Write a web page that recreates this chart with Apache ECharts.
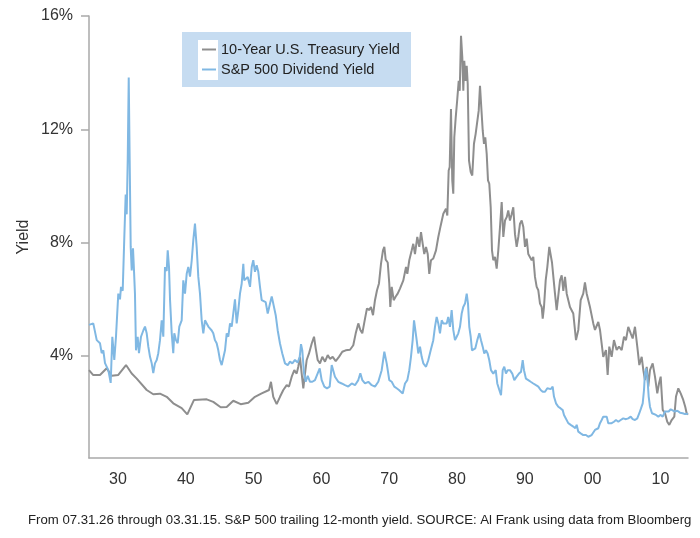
<!DOCTYPE html>
<html>
<head>
<meta charset="utf-8">
<script src="https://cdn.jsdelivr.net/npm/echarts@6/dist/echarts.min.js"></script>
<style>
html,body{margin:0;padding:0;background:#fff;}
#chart{width:700px;height:538px;}
</style>
</head>
<body>
<div id="chart"></div>
<script>
// 10-Year U.S. Treasury Yield (years, values in %)
const tyYears = [1925.72,1926.31,1927.34,1928.33,1929.07,1930.04,1931.18,1932.02,1932.76,1934.23,1935.2,1936.19,1937.18,1938.15,1939.39,1940.22,1941.21,1943.08,1944.05,1945.14,1946.03,1947.0,1948.09,1949.22,1950.2,1951.19,1952.27,1952.56,1952.9,1953.4,1953.89,1954.38,1954.88,1955.22,1955.62,1956.0,1956.35,1956.59,1956.84,1957.09,1957.33,1957.58,1957.83,1958.17,1958.57,1958.91,1959.16,1959.45,1959.79,1960.13,1960.53,1960.93,1961.27,1961.66,1962.11,1962.59,1963.08,1963.58,1964.22,1964.7,1965.06,1965.44,1965.74,1966.03,1966.43,1966.72,1967.02,1967.31,1967.61,1967.9,1968.2,1968.49,1968.79,1969.08,1969.28,1969.48,1969.78,1970.01,1970.16,1970.37,1970.66,1970.96,1971.25,1971.59,1972.08,1972.48,1972.67,1972.96,1973.32,1973.55,1973.8,1974.14,1974.44,1974.69,1974.94,1975.17,1975.43,1975.68,1975.91,1976.16,1976.5,1976.9,1977.24,1977.59,1977.98,1978.37,1978.57,1978.77,1978.92,1979.11,1979.3,1979.45,1979.6,1979.81,1980.04,1980.25,1980.4,1980.59,1980.78,1980.93,1981.07,1981.28,1981.43,1981.58,1981.77,1982.02,1982.25,1982.5,1982.75,1982.99,1983.2,1983.39,1983.58,1983.79,1983.98,1984.17,1984.38,1984.57,1984.76,1984.97,1985.16,1985.35,1985.6,1985.85,1986.09,1986.34,1986.59,1986.83,1987.08,1987.33,1987.56,1987.81,1988.06,1988.3,1988.55,1988.8,1989.04,1989.29,1989.54,1989.78,1990.03,1990.28,1990.51,1990.76,1991.01,1991.25,1991.5,1991.75,1991.99,1992.24,1992.49,1992.64,1992.83,1993.08,1993.32,1993.61,1993.76,1994.01,1994.45,1994.7,1995.19,1995.44,1995.68,1995.93,1996.18,1996.66,1997.15,1997.55,1997.89,1998.24,1998.62,1998.87,1999.13,1999.61,2000.1,2000.35,2000.84,2001.09,2001.57,2001.97,2002.22,2002.46,2002.81,2003.15,2003.55,2003.89,2004.29,2004.63,2004.92,2005.26,2005.62,2005.91,2006.25,2006.59,2006.89,2007.24,2007.48,2007.72,2007.98,2008.21,2008.46,2008.86,2009.2,2009.54,2009.79,2010.04,2010.34,2010.68,2011.01,2011.31,2011.66,2012.05,2012.3,2012.64,2012.99,2013.37,2013.67,2013.87,2014.07];
const tyValues = [3.5,3.33,3.33,3.57,3.3,3.33,3.68,3.38,3.2,2.8,2.65,2.67,2.56,2.33,2.16,1.94,2.45,2.47,2.38,2.19,2.2,2.42,2.3,2.35,2.56,2.68,2.8,3.09,2.56,2.3,2.56,2.8,2.97,2.92,3.27,3.5,3.38,3.62,3.97,3.38,2.86,3.38,3.86,4.09,4.44,4.68,4.27,3.86,3.74,3.97,3.8,4.03,3.9,3.97,3.82,3.97,4.15,4.2,4.22,4.38,4.8,5.15,4.92,4.8,5.32,5.68,5.62,5.73,5.44,5.97,6.32,6.56,7.26,7.73,7.85,7.4,7.3,6.56,5.73,6.44,5.97,6.1,6.2,6.38,6.67,7.14,6.9,7.38,7.73,7.96,7.6,8.2,7.85,8.37,7.96,7.6,7.85,7.6,6.9,7.38,7.44,7.73,8.2,8.6,9.02,9.2,8.96,10.55,10.67,12.72,10.2,9.73,11.72,12.42,13.07,13.71,13.36,15.3,14.54,13.36,14.42,13.71,14.24,13.6,10.9,10.49,10.37,11.49,11.84,11.78,12.66,13.54,12.78,11.96,11.49,11.72,11.13,10.2,10.08,9.25,7.73,7.38,7.5,7.08,7.73,8.55,9.43,8.2,8.78,8.9,9.14,8.78,9.0,9.25,8.3,7.85,8.2,8.67,8.78,8.55,7.85,8.14,7.6,7.6,7.38,7.5,6.79,6.44,6.32,5.85,5.73,5.32,5.73,6.67,7.14,7.85,7.9,7.3,6.2,5.62,6.67,6.85,6.3,6.79,6.2,5.73,5.5,4.56,4.92,5.97,6.2,6.6,6.2,5.73,5.15,4.92,5.2,4.92,3.97,4.21,3.33,4.33,3.97,4.56,4.21,4.33,4.21,4.68,4.56,5.03,4.8,4.62,5.03,4.33,3.68,3.97,3.5,3.15,3.62,2.92,3.5,3.74,3.27,2.68,3.03,3.27,2.1,1.98,1.68,1.57,1.74,1.86,2.57,2.86,2.68,2.45,2.2,1.98,1.93];

// S&P 500 Dividend Yield
const dyYears = [1925.72,1925.87,1926.35,1926.86,1927.34,1927.59,1927.83,1928.08,1928.57,1928.92,1929.16,1929.45,1929.7,1930.04,1930.29,1930.44,1930.69,1930.93,1931.13,1931.28,1931.43,1931.58,1931.72,1931.87,1932.02,1932.21,1932.36,1932.5,1932.65,1932.9,1933.09,1933.39,1933.73,1933.98,1934.23,1934.47,1934.72,1934.97,1935.2,1935.45,1935.71,1935.94,1936.19,1936.44,1936.68,1936.93,1937.18,1937.33,1937.52,1937.67,1937.92,1938.15,1938.3,1938.55,1938.8,1939.04,1939.39,1939.63,1939.88,1940.13,1940.37,1940.62,1940.87,1941.1,1941.35,1941.6,1941.84,1942.09,1942.34,1942.58,1942.83,1943.08,1943.32,1943.57,1943.82,1944.05,1944.3,1944.55,1944.79,1945.04,1945.29,1945.53,1945.78,1946.03,1946.27,1946.52,1946.77,1947.0,1947.25,1947.5,1947.74,1947.99,1948.24,1948.48,1948.62,1949.13,1949.47,1949.72,1949.95,1950.2,1950.45,1950.69,1950.94,1951.19,1951.43,1951.78,1952.08,1952.42,1952.67,1952.9,1953.26,1953.55,1953.89,1954.23,1954.63,1955.03,1955.37,1955.71,1956.1,1956.5,1956.8,1956.99,1957.18,1957.43,1957.68,1957.98,1958.32,1958.66,1959.05,1959.45,1959.75,1960.04,1960.43,1960.82,1961.22,1961.52,1961.75,1962.0,1962.49,1962.99,1963.48,1963.96,1964.47,1964.95,1965.44,1965.74,1966.03,1966.43,1966.92,1967.42,1967.9,1968.39,1968.89,1969.28,1969.63,1970.01,1970.37,1970.75,1971.1,1971.44,1971.99,1972.33,1972.67,1972.96,1973.21,1973.46,1973.66,1973.85,1974.05,1974.29,1974.54,1974.79,1975.03,1975.43,1975.76,1976.12,1976.5,1976.75,1977.0,1977.24,1977.49,1977.74,1977.98,1978.23,1978.48,1978.71,1978.96,1979.21,1979.45,1979.7,1979.95,1980.19,1980.44,1980.69,1980.92,1981.18,1981.43,1981.62,1981.81,1982.02,1982.21,1982.4,1982.7,1982.99,1983.29,1983.54,1983.79,1984.02,1984.27,1984.52,1984.76,1985.01,1985.35,1985.71,1985.94,1986.24,1986.49,1986.74,1986.97,1987.22,1987.47,1987.81,1988.15,1988.45,1988.8,1989.14,1989.44,1989.69,1989.88,1990.17,1990.51,1990.87,1991.25,1991.65,1991.99,1992.34,1992.64,1992.98,1993.32,1993.82,1994.11,1994.3,1994.6,1994.94,1995.29,1995.59,1995.78,1996.07,1996.41,1996.77,1997.15,1997.45,1997.65,1997.89,1998.24,1998.62,1999.02,1999.36,1999.61,1999.86,2000.1,2000.35,2000.6,2000.84,2001.09,2001.34,2001.57,2001.83,2002.08,2002.31,2002.56,2002.81,2003.15,2003.45,2003.79,2004.14,2004.52,2004.92,2005.26,2005.62,2005.91,2006.25,2006.59,2006.89,2007.14,2007.39,2007.58,2007.72,2007.87,2008.07,2008.27,2008.46,2008.76,2009.05,2009.35,2009.69,2010.04,2010.34,2010.68,2010.93,2011.22,2011.52,2011.81,2012.15,2012.49,2012.89,2013.29,2013.63,2013.87,2014.07];
const dyValues = [5.1,5.15,5.15,4.56,4.45,4.1,4.2,3.75,3.5,3.05,4.68,3.86,4.68,6.2,6.0,6.44,6.3,8.2,9.7,9.0,10.9,13.83,10.9,7.85,7.02,7.8,7.0,6.2,4.2,4.68,4.1,4.68,4.9,5.04,4.8,4.33,3.97,3.74,3.4,3.74,3.86,4.1,4.56,5.26,4.68,7.14,7.0,7.73,7.14,6.0,4.8,4.1,4.8,4.56,4.45,5.04,5.26,6.67,6.2,6.9,7.14,6.8,7.37,8.08,8.67,7.85,6.8,6.2,5.26,4.8,5.26,5.15,5.04,5.1,4.9,4.8,4.56,4.45,4.2,3.86,3.68,3.74,4.2,4.8,4.68,5.15,5.04,5.5,6.0,5.15,5.6,6.2,6.55,7.25,6.67,6.79,6.44,7.14,7.38,6.97,7.2,6.97,6.44,5.97,6.03,5.9,5.5,5.85,6.1,5.85,5.44,4.91,4.44,4.09,3.74,3.68,3.8,3.74,3.86,3.77,3.97,4.42,4.2,3.39,3.09,3.3,3.09,3.09,3.15,3.39,3.56,3.15,2.92,2.86,2.92,3.68,3.62,3.27,3.09,3.03,2.97,2.92,3.03,2.97,3.15,3.39,3.15,3.03,3.09,2.97,2.92,3.09,3.5,4.15,3.74,3.15,3.09,2.92,2.86,2.8,2.68,3.03,3.15,3.5,3.97,4.56,5.26,5.32,4.56,4.09,4.33,3.97,3.74,3.62,3.85,4.2,4.56,5.03,5.38,5.15,4.8,5.26,5.15,5.2,5.15,5.38,5.03,5.62,4.92,4.56,4.68,4.8,5.03,5.5,5.73,5.85,6.2,5.85,5.03,4.68,4.2,4.15,4.27,4.56,4.8,4.56,4.33,4.09,4.2,4.09,3.85,3.5,3.38,3.5,3.03,2.8,2.62,3.5,3.62,3.38,3.5,3.5,3.38,3.15,3.27,3.38,3.44,3.85,3.5,3.2,3.15,3.09,3.03,2.97,2.92,2.8,2.74,2.74,2.86,2.83,2.92,2.57,2.33,2.21,2.15,2.09,1.92,1.86,1.63,1.57,1.51,1.45,1.57,1.33,1.27,1.21,1.21,1.15,1.1,1.21,1.27,1.39,1.33,1.45,1.63,1.74,1.86,1.92,1.86,1.63,1.68,1.63,1.68,1.74,1.68,1.74,1.8,1.77,1.8,1.86,1.77,1.74,1.8,1.98,2.15,2.33,2.8,3.39,3.56,3.27,2.57,2.21,1.98,2.04,1.92,1.86,1.92,1.86,2.04,2.09,2.04,2.12,2.15,2.04,2.07,2.0,1.98,1.95,1.98,1.96];

const xTickYears = [1930,1940,1950,1960,1970,1980,1990,2000,2010];
const xTickLabels = ['30','40','50','60','70','80','90','00','10'];
const yTickValues = [4,8,12,16];
const seriesNames = ['10-Year U.S. Treasury Yield','S&P 500 Dividend Yield'];
const caption = 'From 07.31.26 through 03.31.15. S&P 500 trailing 12-month yield. SOURCE: Al Frank using data from Bloomberg';

const FONT = "'Liberation Sans', Arial, sans-serif";
const zip = (xs, ys) => xs.map((x, i) => [x, ys[i]]);
const axisGray = '#a9a9a9';

const chart = echarts.init(document.getElementById('chart'), null, {renderer: 'canvas'});
chart.setOption({
  animation: false,
  backgroundColor: '#ffffff',
  textStyle: {fontFamily: FONT},
  grid: {left: 89, right: 12, top: 16, bottom: 80, containLabel: false},
  graphic: [
    {type: 'rect', shape: {x: 182, y: 32, width: 229, height: 55}, style: {fill: '#c6dcf1'}, z: 0},
    {type: 'rect', shape: {x: 198, y: 40, width: 20, height: 40}, style: {fill: '#ffffff'}, z: 1},
    {type: 'text', left: 28, top: 514, style: {text: caption, font: "13.2px " + FONT, fill: '#222'}}
  ],
  legend: {
    orient: 'vertical', left: 202, top: 42, padding: 0, itemGap: 5,
    itemWidth: 14, itemHeight: 2, icon: 'rect',
    textStyle: {fontSize: 14.5, color: '#222', fontFamily: FONT},
    data: seriesNames, z: 5
  },
  xAxis: {
    type: 'value', min: 1925.72, max: 2014.07,
    axisLine: {show: true, lineStyle: {color: axisGray, width: 1.5}},
    axisTick: {show: false},
    splitLine: {show: false},
    axisLabel: {
      customValues: xTickYears,
      formatter: v => xTickLabels[xTickYears.indexOf(Math.round(v))],
      fontSize: 16, color: '#333', margin: 14, fontFamily: FONT
    }
  },
  yAxis: {
    type: 'value', min: 0.4, max: 16,
    name: 'Yield', nameLocation: 'middle', nameGap: 57, nameRotate: 90, nameMoveOverlap: false,
    nameTextStyle: {fontSize: 16, color: '#333', fontFamily: FONT},
    axisLine: {show: true, lineStyle: {color: axisGray, width: 1.5}},
    axisTick: {show: true, length: 8, customValues: yTickValues, lineStyle: {color: axisGray, width: 1.5}},
    splitLine: {show: false},
    axisLabel: {customValues: yTickValues, formatter: v => v + '%', fontSize: 16, color: '#333', margin: 16, fontFamily: FONT}
  },
  series: [
    {name: seriesNames[0], type: 'line', data: zip(tyYears, tyValues), symbol: 'none',
     lineStyle: {color: '#8e8e8e', width: 2}, itemStyle: {color: '#8e8e8e'}},
    {name: seriesNames[1], type: 'line', data: zip(dyYears, dyValues), symbol: 'none',
     lineStyle: {color: '#80b8e3', width: 2}, itemStyle: {color: '#80b8e3'}}
  ]
});
</script>
</body>
</html>
